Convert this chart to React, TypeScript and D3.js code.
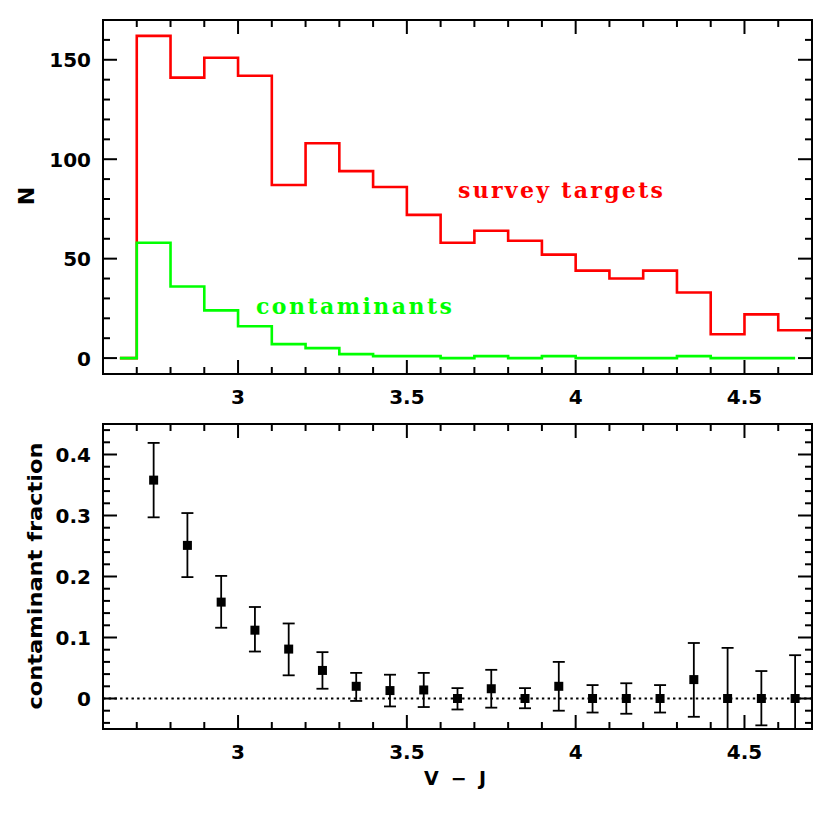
import React from 'react';
import * as d3 from 'd3';

// bin left edges (V - J), width 0.1
const binEdges = [2.7, 2.8, 2.9, 3.0, 3.1, 3.2, 3.3, 3.4, 3.5, 3.6, 3.7, 3.8, 3.9, 4.0, 4.1, 4.2, 4.3, 4.4, 4.5, 4.6];
const surveyCounts = [162, 141, 151, 142, 87, 108, 94, 86, 72, 58, 64, 59, 52, 44, 40, 44, 33, 12, 22, 14];
const contamCounts = [58, 36, 24, 16, 7, 5, 2, 1, 1, 0, 1, 0, 1, 0, 0, 0, 1, 0, 0, 0];

// bottom panel: bin centres, fraction and error bar ends
const binCenters = [2.75, 2.85, 2.95, 3.05, 3.15, 3.25, 3.35, 3.45, 3.55, 3.65, 3.75, 3.85, 3.95, 4.05, 4.15, 4.25, 4.35, 4.45, 4.55, 4.65];
const fraction = [0.358, 0.251, 0.158, 0.112, 0.081, 0.046, 0.020, 0.013, 0.014, 0, 0.016, 0, 0.020, 0, 0, 0, 0.031, 0, 0, 0];
const fracHi = [0.419, 0.304, 0.201, 0.150, 0.123, 0.076, 0.042, 0.039, 0.042, 0.017, 0.047, 0.017, 0.060, 0.022, 0.025, 0.022, 0.091, 0.083, 0.045, 0.071];
const fracLo = [0.297, 0.199, 0.116, 0.077, 0.038, 0.016, -0.004, -0.013, -0.014, -0.018, -0.015, -0.016, -0.020, -0.023, -0.025, -0.023, -0.030, -0.083, -0.044, -0.071];

const xMajor = [3, 3.5, 4, 4.5];
const xLabels = ['3', '3.5', '4', '4.5'];
const topMajor = [0, 50, 100, 150];
const botMajor = [0, 0.1, 0.2, 0.3, 0.4];
const botLabels = ['0', '0.1', '0.2', '0.3', '0.4'];

const LEFT = 103;
const RIGHT = 812;
const TOP1 = 20, BOT1 = 374;
const TOP2 = 424, BOT2 = 729;
const MAJOR = 14, MINOR = 7;
const tickFont = { fontFamily: 'DejaVu Sans', fontWeight: 'bold', fontSize: 20 } as const;

const x = d3.scaleLinear().domain([2.6, 4.7]).range([LEFT, RIGHT]);
const yTop = d3.scaleLinear().domain([-8, 170]).range([BOT1, TOP1]);
const yBot = d3.scaleLinear().domain([-0.05, 0.45]).range([BOT2, TOP2]);

function frameTicks(y: d3.ScaleLinear<number, number>, top: number, bottom: number, yMaj: number[], yMin: number[]) {
  const xMin = d3.range(26, 48).map(i => i / 10).filter(v => !xMajor.includes(v));
  const lines: JSX.Element[] = [];
  xMajor.forEach((v, i) => {
    lines.push(<line key={`xb${i}`} x1={x(v)} x2={x(v)} y1={bottom} y2={bottom - MAJOR} />);
    lines.push(<line key={`xt${i}`} x1={x(v)} x2={x(v)} y1={top} y2={top + MAJOR} />);
  });
  xMin.forEach((v, i) => {
    lines.push(<line key={`xbm${i}`} x1={x(v)} x2={x(v)} y1={bottom} y2={bottom - MINOR} />);
    lines.push(<line key={`xtm${i}`} x1={x(v)} x2={x(v)} y1={top} y2={top + MINOR} />);
  });
  yMaj.forEach((v, i) => {
    lines.push(<line key={`yl${i}`} x1={LEFT} x2={LEFT + MAJOR} y1={y(v)} y2={y(v)} />);
    lines.push(<line key={`yr${i}`} x1={RIGHT} x2={RIGHT - MAJOR} y1={y(v)} y2={y(v)} />);
  });
  yMin.forEach((v, i) => {
    lines.push(<line key={`ylm${i}`} x1={LEFT} x2={LEFT + MINOR} y1={y(v)} y2={y(v)} />);
    lines.push(<line key={`yrm${i}`} x1={RIGHT} x2={RIGHT - MINOR} y1={y(v)} y2={y(v)} />);
  });
  return (
    <g stroke="#000" strokeWidth={2} fill="none">
      {lines}
      <rect x={LEFT} y={top} width={RIGHT - LEFT} height={bottom - top} />
    </g>
  );
}

export default function App() {
  const step = d3.line<[number, number]>()
    .x(d => x(d[0]))
    .y(d => yTop(d[1]))
    .curve(d3.curveStepAfter);

  const redPts: [number, number][] = [[2.65, 0], ...binEdges.map((e, i) => [e, surveyCounts[i]] as [number, number]), [4.7, surveyCounts[surveyCounts.length - 1]]];
  const greenPts: [number, number][] = [[2.65, 0], ...binEdges.map((e, i) => [e, contamCounts[i]] as [number, number]), [4.65, 0]];

  const topMinor = d3.range(0, 171, 10).filter(v => !topMajor.includes(v));
  const botMinor = d3.range(-4, 45, 2).map(v => v / 100).filter(v => !botMajor.some(m => Math.abs(m - v) < 1e-9));

  return (
    <svg width={830} height={830} style={{ position: 'absolute', left: 0, top: 0, background: '#fff' }}>
      <defs>
        <clipPath id="clipTop"><rect x={LEFT} y={TOP1} width={RIGHT - LEFT} height={BOT1 - TOP1} /></clipPath>
        <clipPath id="clipBot"><rect x={LEFT} y={TOP2} width={RIGHT - LEFT} height={BOT2 - TOP2} /></clipPath>
      </defs>

      {/* top panel */}
      <g clipPath="url(#clipTop)" fill="none" strokeWidth={2.6}>
        <path d={step(redPts) || ''} stroke="#ff0000" />
        <path d={step(greenPts) || ''} stroke="#00ff00" />
      </g>
      {frameTicks(yTop, TOP1, BOT1, topMajor, topMinor)}
      <g {...tickFont}>
        {topMajor.map((v, i) => (
          <text key={i} x={91} y={yTop(v) + 7.5} textAnchor="end">{v}</text>
        ))}
        {xMajor.map((v, i) => (
          <text key={i} x={x(v)} y={BOT1 + 30} textAnchor="middle">{xLabels[i]}</text>
        ))}
      </g>
      <text x={26} y={196} transform="rotate(-90 26 196)" textAnchor="middle" dominantBaseline="central"
        fontFamily="DejaVu Sans" fontWeight="bold" fontSize={22}>N</text>
      <text x={458} y={198} fill="#ff0000" fontFamily="DejaVu Serif" fontWeight="bold" fontSize={22}
        textLength={205} lengthAdjust="spacing">survey targets</text>
      <text x={256} y={314} fill="#00ff00" fontFamily="DejaVu Serif" fontWeight="bold" fontSize={22}
        textLength={196} lengthAdjust="spacing">contaminants</text>

      {/* bottom panel */}
      <g clipPath="url(#clipBot)">
        <line x1={LEFT} x2={RIGHT} y1={yBot(0)} y2={yBot(0)} stroke="#000" strokeWidth={2.2} strokeDasharray="2.4 3.3" />
        <g stroke="#000" strokeWidth={1.8}>
          {binCenters.map((c, i) => (
            <g key={i}>
              <line x1={x(c)} x2={x(c)} y1={yBot(fracLo[i])} y2={yBot(fracHi[i])} />
              <line x1={x(c) - 6} x2={x(c) + 6} y1={yBot(fracLo[i])} y2={yBot(fracLo[i])} />
              <line x1={x(c) - 6} x2={x(c) + 6} y1={yBot(fracHi[i])} y2={yBot(fracHi[i])} />
            </g>
          ))}
        </g>
        {binCenters.map((c, i) => (
          <rect key={i} x={x(c) - 4.5} y={yBot(fraction[i]) - 4.5} width={9} height={9} fill="#000" />
        ))}
      </g>
      {frameTicks(yBot, TOP2, BOT2, botMajor, botMinor)}
      <g {...tickFont}>
        {botMajor.map((v, i) => (
          <text key={i} x={91} y={yBot(v) + 7.5} textAnchor="end">{botLabels[i]}</text>
        ))}
        {xMajor.map((v, i) => (
          <text key={i} x={x(v)} y={BOT2 + 29.5} textAnchor="middle">{xLabels[i]}</text>
        ))}
      </g>
      <text x={35} y={576} transform="rotate(-90 35 576)" textAnchor="middle" dominantBaseline="central"
        fontFamily="DejaVu Sans" fontWeight="bold" fontSize={20} textLength={267} lengthAdjust="spacingAndGlyphs">contaminant fraction</text>
      <text x={455} y={785} textAnchor="middle" fontFamily="DejaVu Sans" fontWeight="bold" fontSize={19}
        textLength={62} lengthAdjust="spacing">V − J</text>
    </svg>
  );
}
